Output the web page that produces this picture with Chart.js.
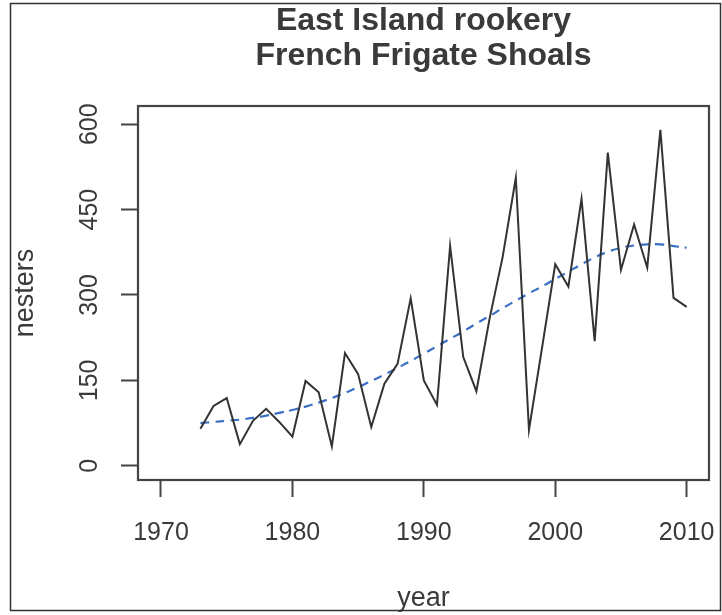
<!DOCTYPE html>
<html>
<head>
<meta charset="utf-8">
<script src="https://cdn.jsdelivr.net/npm/chart.js@4"></script>
<style>
  html, body { margin: 0; padding: 0; background: #fff; }
  #wrap { width: 722px; height: 615px; }
</style>
</head>
<body>
<div id="wrap"><canvas id="myChart" width="722" height="615"></canvas></div>
<script>
const years = [1973,1974,1975,1976,1977,1978,1979,1980,1981,1982,1983,1984,1985,1986,1987,1988,1989,
               1990,1991,1992,1993,1994,1995,1996,1997,1998,1999,2000,2001,2002,2003,2004,2005,2006,
               2007,2008,2009,2010];
const nesters = [65,105,119,38,79,100,77,51,149,129,34,198,161,68,144,179,294,
                 150,107,386,191,131,258,367,506,63,208,354,315,469,219,550,344,424,
                 348,590,295,279];
const trend = [75,77,79,81,84,88,93,98,104,111,119,128,138,149,160,172,184,
               197,210,223,236,250,263,277,290,303,315,328,341,354,366,376,383,387,
               389,389,386,383];
const xTicks = [1970,1980,1990,2000,2010];
const yTicks = [0,150,300,450,600];

const ink = '#3a3a3a';
const font = 'Liberation Sans, Arial, sans-serif';

// frame around the whole picture and the box around the plot
const boxPlugin = {
    id: 'boxes',
    afterDraw(chart) {
        const c = chart.ctx;
        const a = chart.chartArea;
        c.save();
        c.strokeStyle = '#333';
        c.lineWidth = 1.5;
        c.strokeRect(10.5, 3.5, 710, 607);
        c.strokeStyle = '#444';
        c.lineWidth = 2.2;
        c.strokeRect(a.left, a.top, a.right - a.left, a.bottom - a.top);
        c.restore();
    }
};

const ctx = document.getElementById('myChart').getContext('2d');
const myChart = new Chart(ctx, {
    type: 'line',
    data: {
        datasets: [{
            label: 'nesters',
            data: years.map((y, i) => ({x: y, y: nesters[i]})),
            borderColor: '#333',
            borderWidth: 2,
            pointRadius: 0,
            tension: 0
        }, {
            label: 'trend',
            data: years.map((y, i) => ({x: y, y: trend[i]})),
            borderColor: '#3a6fc4',
            borderWidth: 2.2,
            borderDash: [9, 6],
            pointRadius: 0,
            tension: 0.4
        }]
    },
    options: {
        responsive: false,
        animation: false,
        layout: { autoPadding: false, padding: { left: 0, right: 13, top: 0, bottom: 0 } },
        plugins: {
            legend: { display: false },
            tooltip: { enabled: false },
            title: {
                display: true,
                fullSize: false,
                text: ['East Island rookery', 'French Frigate Shoals'],
                color: ink,
                font: { family: font, size: 32, weight: 'bold', lineHeight: '35px' },
                padding: { top: 4, bottom: 32 }
            }
        },
        scales: {
            x: {
                type: 'linear',
                min: 1968.25,
                max: 2011.7,
                afterBuildTicks: s => { s.ticks = xTicks.map(v => ({value: v})); },
                afterFit: s => { s.height = 135; s.paddingLeft = 0; s.paddingRight = 0; },
                border: { display: false },
                grid: { display: true, drawOnChartArea: false, drawTicks: true,
                        tickLength: 17, tickWidth: 2, tickColor: '#444' },
                ticks: { color: ink, padding: 21, maxRotation: 0, autoSkip: false,
                         font: { family: font, size: 25 },
                         callback: v => String(v) },
                title: { display: true, text: 'year', color: ink,
                         font: { family: font, size: 27 }, padding: { top: 0, bottom: 0 } }
            },
            y: {
                min: -25,
                max: 632,
                afterBuildTicks: s => { s.ticks = yTicks.map(v => ({value: v})); },
                afterFit: s => { s.width = 138; s.paddingTop = 0; s.paddingBottom = 0; },
                border: { display: false },
                grid: { display: true, drawOnChartArea: false, drawTicks: true,
                        tickLength: 17, tickWidth: 2, tickColor: '#444' },
                ticks: { color: ink, padding: 10, minRotation: 90, maxRotation: 90,
                         crossAlign: 'center',
                         font: { family: font, size: 25 },
                         callback: v => String(v) },
                title: { display: true, text: 'nesters', color: ink,
                         font: { family: font, size: 27 }, padding: { top: 9, bottom: 0 } }
            }
        }
    },
    plugins: [boxPlugin]
});
</script>
</body>
</html>
